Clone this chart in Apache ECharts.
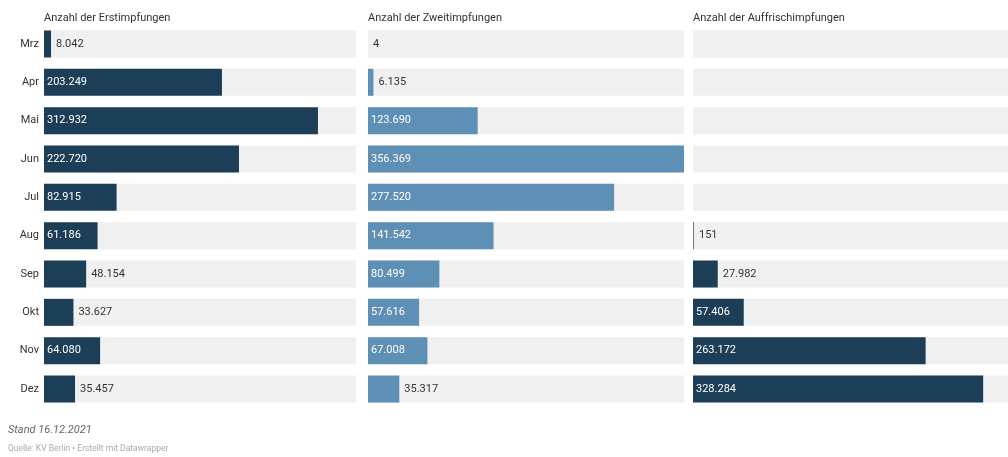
<!DOCTYPE html>
<html><head><meta charset="utf-8">
<script src="https://cdn.jsdelivr.net/npm/echarts@6/dist/echarts.min.js"></script>
<style>html,body{margin:0;padding:0;background:#fff}#c{width:1008px;height:457px}</style>
</head><body><div id="c"></div>
<script>
const months = ['Mrz','Apr','Mai','Jun','Jul','Aug','Sep','Okt','Nov','Dez'];
const titles = ['Anzahl der Erstimpfungen','Anzahl der Zweitimpfungen','Anzahl der Auffrischimpfungen'];
const erst = [8042,203249,312932,222720,82915,61186,48154,33627,64080,35457];
const zweit = [4,6135,123690,356369,277520,141542,80499,57616,67008,35317];
const auff = [null,null,null,null,null,151,27982,57406,263172,328284];
const maxVal = 356369;

const colors = ['#1d3e57','#5e8fb4','#1d3e57'];
const lefts = [44,368,693];
const widths = [312,316,315];
const seriesData = [erst, zweit, auff];
const fmt = v => String(v).replace(/\B(?=(\d{3})+(?!\d))/g, '.');

const option = {
  animation:false,
  title: titles.map((t,i)=>({text:t,left:lefts[i],top:13,padding:0,textStyle:{fontFamily:'Roboto',fontSize:11,fontWeight:'normal',color:'#333'}}))
    .concat([
      {text:'Stand 16.12.2021',left:8,top:425,padding:0,textStyle:{fontFamily:'Roboto',fontSize:11,fontStyle:'italic',fontWeight:'normal',color:'#666'}},
      {text:'Quelle: KV Berlin • Erstellt mit Datawrapper',left:8,top:444,padding:0,textStyle:{fontFamily:'Roboto',fontSize:8.5,fontWeight:'normal',color:'#aaa'}}
    ]),
  grid: lefts.map((l,i)=>({left:l,width:widths[i],top:24.8,height:383.4})),
  xAxis: lefts.map((l,i)=>({type:'value',gridIndex:i,min:0,max:maxVal,show:false})),
  yAxis: lefts.map((l,i)=>({type:'category',gridIndex:i,data:months,inverse:true,
    axisLine:{show:false},axisTick:{show:false},
    axisLabel:{show:i===0,margin:5,fontFamily:'Roboto',fontSize:11,color:'#333'}})),
  series: seriesData.map((arr,i)=>({
    type:'bar',xAxisIndex:i,yAxisIndex:i,barWidth:27,
    barMinHeight: i===2 ? 1 : 0,
    itemStyle:{color:colors[i]},
    showBackground:true,
    backgroundStyle:{color:'#f0f0f0'},
    data: arr.map(v => v===null ? '-' : ({
      value:v,
      itemStyle: (i===2 && v<1000) ? {color:'#777'} : undefined,
      label: v>50000
        ? {show:true,position:'insideLeft',distance:3,color:'#fff',formatter:p=>fmt(p.value),fontFamily:'Roboto',fontSize:11}
        : {show:true,position:'right',distance:5,color:'#333',formatter:p=>fmt(p.value),fontFamily:'Roboto',fontSize:11}
    }))
  }))
};
echarts.init(document.getElementById('c')).setOption(option);
</script>
</body></html>
